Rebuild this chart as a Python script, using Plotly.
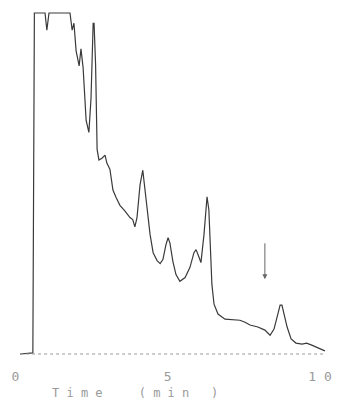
import plotly.graph_objects as go

# Chromatogram trace (time in min, signal in % of full scale)
time_min = [0.15, 0.57, 0.62, 0.97, 1.03, 1.10, 1.79, 1.86, 1.92, 1.99, 2.09, 2.15, 2.22,
            2.32, 2.41, 2.48, 2.55, 2.58, 2.63, 2.68, 2.74, 2.84, 2.94, 3.00, 3.10, 3.20,
            3.30, 3.43, 3.59, 3.76, 3.85, 3.92, 3.99, 4.09, 4.18, 4.28, 4.35, 4.42, 4.52,
            4.65, 4.75, 4.84, 4.94, 5.01, 5.07, 5.17, 5.27, 5.40, 5.57, 5.73, 5.86, 5.93,
            6.03, 6.09, 6.19, 6.26, 6.29, 6.35, 6.42, 6.45, 6.52, 6.65, 6.88, 7.21, 7.37,
            7.54, 7.70, 7.96, 8.19, 8.36, 8.49, 8.59, 8.69, 8.75, 8.82, 8.92, 9.05, 9.21,
            9.41, 9.56, 9.73, 9.93, 10.16]
signal = [0.0, 0.3, 100, 100, 95, 100, 100, 95, 97, 88.9, 84.5, 89.5, 84, 68.5, 65.0, 75,
          97, 97, 85, 60, 56.9, 57.4, 58.3, 56, 54.2, 48.1, 46, 43.6, 42, 40, 39.4, 37.3,
          40, 49.6, 53.9, 46.6, 40.8, 35, 29.7, 27.4, 26.5, 27.7, 32, 34.1, 32.6, 27.1,
          23.3, 21.3, 22.4, 25.4, 29.7, 30.6, 28.3, 26.8, 35, 45.2, 46.1, 42.3, 29.2, 20.4,
          14.6, 11.7, 10.2, 9.9, 9.9, 9.3, 8.5, 7.9, 7.0, 5.5, 7.3, 10.8, 14.3, 14.3, 11.7,
          7.9, 4.4, 3.2, 2.9, 3.2, 2.6, 1.7, 0.9]

tick_vals = [0, 5, 10]
tick_text = ["0", "5", "1\u00a00"]
x_title = "T\u00a0i\u00a0m\u00a0e\u00a0\u00a0\u00a0\u00a0\u00a0(\u00a0m\u00a0i\u00a0n\u00a0\u00a0\u00a0)"

arrow_time = 8.19
arrow_tip = 21.9
arrow_tail = 32.9

fig = go.Figure()
fig.add_trace(go.Scatter(x=time_min, y=signal, mode="lines",
                         line=dict(color="#3a3a3a", width=1.2),
                         showlegend=False, hoverinfo="skip"))

fig.add_shape(type="line", xref="x", yref="y", x0=time_min[0], x1=time_min[-1],
              y0=0, y1=0, line=dict(color="#9a9a9a", width=1, dash="dot"))

fig.add_annotation(x=arrow_time, y=arrow_tip, ax=arrow_time, ay=arrow_tail,
                   xref="x", yref="y", axref="x", ayref="y", text="",
                   showarrow=True, arrowhead=2, arrowsize=1, arrowwidth=1,
                   arrowcolor="#666")

fig.add_annotation(x=50 / 338, y=-38 / 343, xref="paper", yref="paper", text=x_title,
                   showarrow=False, xanchor="left", yanchor="middle",
                   font=dict(family="DejaVu Sans Mono", size=12, color="#9a9a9a"))

fig.update_layout(
    width=338, height=404,
    margin=dict(l=0, r=0, t=12, b=49),
    paper_bgcolor="white", plot_bgcolor="white",
    xaxis=dict(range=[-0.509, 10.591], showgrid=False, zeroline=False, showline=False,
               tickvals=tick_vals, ticktext=tick_text, ticks="", ticklabelstandoff=12,
               tickfont=dict(family="DejaVu Sans Mono", size=13, color="#9a9a9a")),
    yaxis=dict(range=[-0.3, 100.3], showgrid=False, zeroline=False, showline=False,
               showticklabels=False, ticks=""),
)
fig.write_html("out.html")
